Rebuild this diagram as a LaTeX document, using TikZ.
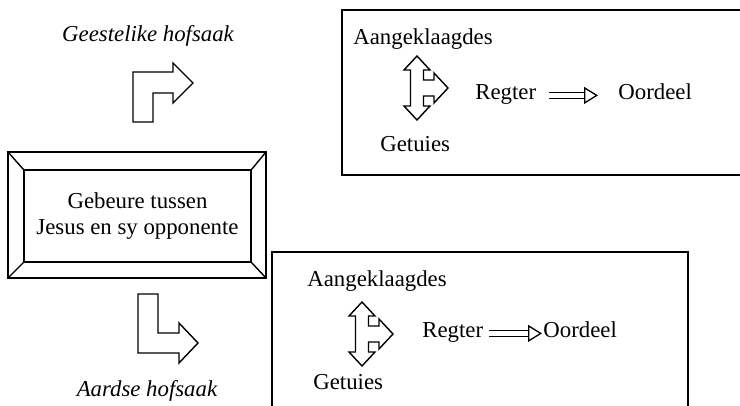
\documentclass[tikz,border=0pt]{standalone}
\usepackage{fontspec}
\setmainfont{Liberation Serif}
\usetikzlibrary{arrows.meta}

\tikzset{
    txt/.style={inner sep=0pt, anchor=base west, font=\fontsize{11.4}{13.5}\selectfont},
    caption/.style={inner sep=0pt, anchor=base, font=\fontsize{11.4}{13.5}\selectfont\itshape},
    shapeline/.style={line width=0.7pt, line join=miter},
    boxline/.style={line width=0.85pt},
    hollow/.style={line width=0.65pt, double distance=2.4pt, -{Triangle[open, length=7pt, width=8.5pt]}},
    forkarrow/.pic={
        \draw[shapeline] (0,-32) -- (13,-18) -- (6.5,-18) -- (6.5,-8) -- (17,-8) -- (17,-15)
            -- (31,0) -- (17,15) -- (17,8) -- (6.5,8) -- (6.5,18) -- (13,18) -- (0,32)
            -- (-13,18) -- (-6.5,18) -- (-6.5,-18) -- (-13,-18) -- cycle;
    }
}

\begin{document}
\begin{tikzpicture}[x=0.5pt, y=-0.5pt]

        \useasboundingbox (0,0) rectangle (740,406);

        % Centre frame with the events
        \node (event) at (137.5,216) [draw, shapeline, minimum width=113.5pt, minimum height=46pt,
            inner sep=0pt, align=center, font=\fontsize{11.4}{13}\selectfont]
            {Gebeure tussen\\Jesus en sy opponente};
        \coordinate (outerNW) at (8,152);
        \coordinate (outerNE) at (266,152);
        \coordinate (outerSE) at (266,278);
        \coordinate (outerSW) at (8,278);
        \draw[shapeline] (outerNW) -- (outerNE) -- (outerSE) -- (outerSW) -- cycle;
        \draw[shapeline] (event.north west) -- (outerNW);
        \draw[shapeline] (event.north east) -- (outerNE);
        \draw[shapeline] (event.south east) -- (outerSE);
        \draw[shapeline] (event.south west) -- (outerSW);

        % Turning arrows and captions
        \node[caption] (spiritual) at (148,42) {Geestelike hofsaak};
        \node[caption] (earthly) at (147,397) {Aardse hofsaak};
        \draw[shapeline] (133,122) -- (133,72) -- (173,72) -- (173,63) -- (193,83)
            -- (173,103) -- (173,93) -- (153,93) -- (153,122) -- cycle;
        \draw[shapeline] (138,294) -- (158,294) -- (158,333) -- (179,333) -- (179,323)
            -- (198,343) -- (179,363) -- (179,353) -- (138,353) -- cycle;

        % Upper court
        \draw[boxline] (740,10) -- (342,10) -- (342,175) -- (740,175);
        \node[txt] (accusedA) at (353,45) {Aangeklaagdes};
        \node[txt] (witnessA) at (380,152) {Getuies};
        \node[txt] (judgeA) at (475,100) {Regter};
        \node[txt] (verdictA) at (618,100) {Oordeel};
        \pic at (417,88) {forkarrow};
        \draw[hollow, shorten <=6pt, shorten >=10pt] (judgeA.mid east) -- (verdictA.mid west);

        % Lower court
        \draw[boxline] (272,406) -- (272,252) -- (688,252) -- (688,406);
        \node[txt] (accusedB) at (307,287) {Aangeklaagdes};
        \node[txt] (witnessB) at (313,390) {Getuies};
        \node[txt] (judgeB) at (422,338) {Regter};
        \node[txt] (verdictB) at (543,338) {Oordeel};
        \pic at (362,334) {forkarrow};
        \draw[hollow, shorten <=2.5pt, shorten >=0.5pt] (judgeB.mid east) -- (verdictB.mid west);

\end{tikzpicture}
\end{document}
